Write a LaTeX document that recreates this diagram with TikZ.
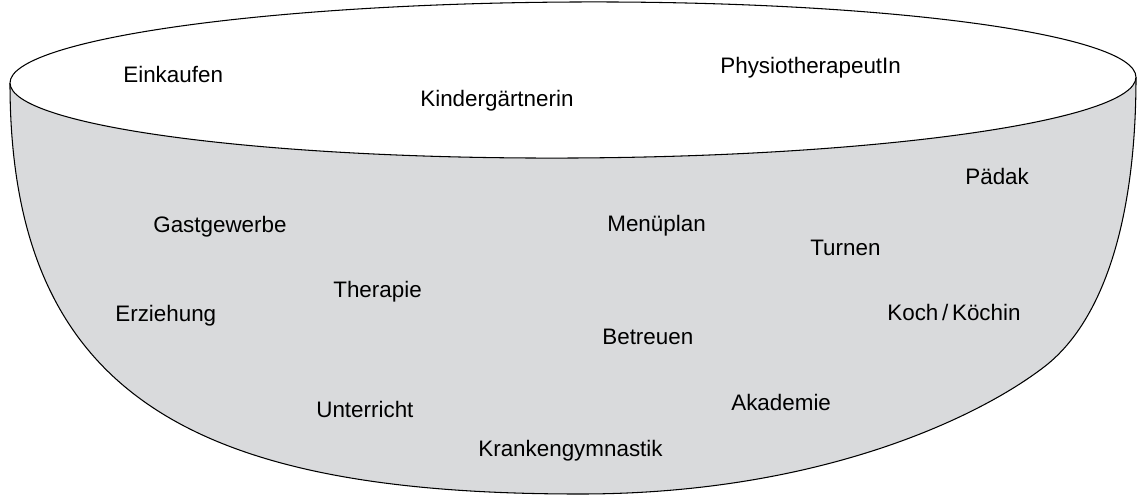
\documentclass[tikz,border=0pt]{standalone}
\usepackage{fontspec}
\setmainfont{Liberation Sans}
\usepackage{xcolor}
\usetikzlibrary{positioning}
\definecolor{bowlgray}{HTML}{D9DADC}

\begin{document}
\begin{tikzpicture}[
  x=0.02cm, y=-0.02cm,
  word/.style={anchor=base west, inner sep=0pt, font=\fontsize{12.75}{15}\selectfont},
  rim/.style={draw=black, line width=0.6pt},
]
  \useasboundingbox (0,0) rectangle (1137,495);

  % Bowl body
  \coordinate (lt) at (10,83);
  \coordinate (bt) at (580,494);
  \coordinate (rs) at (1044,367);
  \coordinate (rt) at (1136,77);
  \coordinate (mid) at (573,80);
  \filldraw[rim, fill=bowlgray] (lt) .. controls (10,400) and (200,494) .. (bt)
    .. controls (820,494) and (979,417) .. (rs)
    .. controls (1099,325) and (1136,230) .. (rt);

  % Opening
  \filldraw[rim, fill=white, rotate around={0.3:(mid)}] (mid) ellipse [x radius=563, y radius=78];

  % Words on the rim
  \node[word] (einkaufen) at (123,82) {Einkaufen};
  \node[word] (kinder) at (420,106) {Kindergärtnerin};
  \node[word] (physio) at (720,73) {PhysiotherapeutIn};

  % Words in the bowl
  \node[word] (paedak) at (965,184) {Pädak};
  \node[word] (gast) at (153,232) {Gastgewerbe};
  \node[word] (menu) at (607,231) {Menüplan};
  \node[word] (turnen) at (810,255) {Turnen};
  \node[word] (therapie) at (333,297) {Therapie};
  \node[word] (erziehung) at (115,321) {Erziehung};
  \node[word] (koch) at (887,320) {Koch\,/\,Köchin};
  \node[word] (betreuen) at (602,344) {Betreuen};
  \node[word] (akademie) at (731,410) {Akademie};
  \node[word] (unterricht) at (316,417) {Unterricht};
  \node[word] (kranken) at (478,456) {Krankengymnastik};
\end{tikzpicture}
\end{document}
